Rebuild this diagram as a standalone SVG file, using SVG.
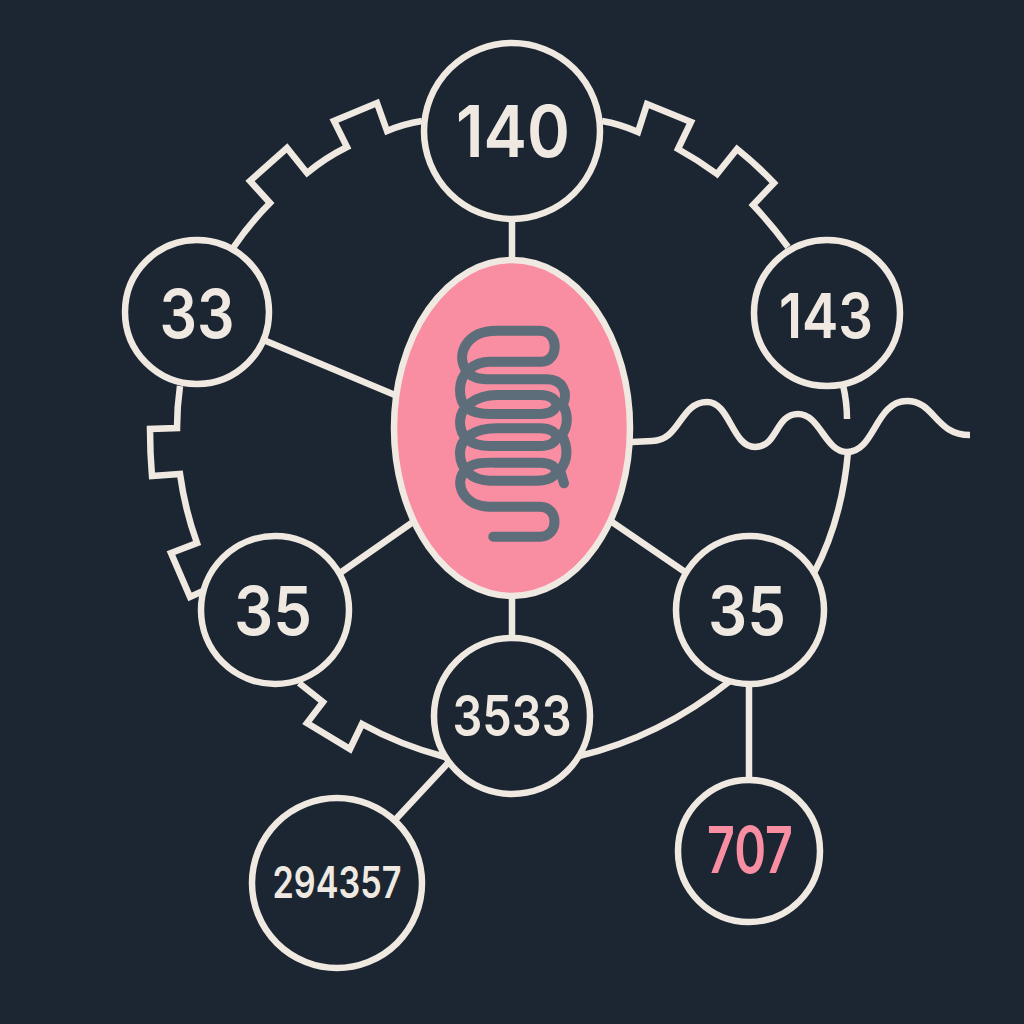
<svg xmlns="http://www.w3.org/2000/svg" width="1024" height="1024" viewBox="0 0 1024 1024">
<style>
.l{fill:none;stroke:#efe9e1;stroke-width:6.5;stroke-linejoin:miter;stroke-linecap:butt}
.n{fill:#1b2632;stroke:#efe9e1;stroke-width:6.5}
.t{fill:#efe9e1;font-family:Inter,"Noto Sans","Liberation Sans",sans-serif;font-weight:600;text-anchor:middle}
</style>
<rect width="1024" height="1024" fill="#1b2632"/>
<g id="connectors">
<path class="l" d="M233,248 Q250,223 270,203 L250,181 L287,148 L307,173 Q325,158 347,147 L334,121 L377,103 L387,131 Q403,124 422,121"/>
<path class="l" d="M602,121 Q620,124 638,132 L647,104 L691,122 L678,149 Q698,160 717,174 L737,149 Q757,165 774,183 L753,205 Q772,225 788,247"/>
<path class="l" d="M180,386 Q177,407 177,428 L150,429 Q150,453 152,476 L180,474 Q185,510 197,543 L171,553 L190,597 L203,591"/>
<path class="l" d="M299,683 L323,702 L307,723 L350,749 L362,724 Q400,745 445,757"/>
<path class="l" d="M579,756 Q660,737 730,681"/>
<path class="l" d="M814,573 Q842,520 848,452"/>
<path class="l" d="M843,385 Q847,402 847,419"/>
<path class="l" stroke-linecap="round" d="M632,442 L652,441 C680,441 680,402 707,402 C730,402 732,447 755,447 C778,447 775,414 798,414 C820,414 825,452 847,452 C875,452 875,401 907,401 C935,401 935,435 970,435"/>
<path class="l" d="M512,219 V260 M266,341 L395,395 M340,573 L413,522 M612,522 L685,572 M512,595 V638 M448,763 L395,820 M749,685 V778"/>
</g>
<g id="center">
<ellipse cx="512" cy="428" rx="118" ry="168" fill="#f98ea3" stroke="#efe9e1" stroke-width="6.5"/>
<g transform="translate(440 310) scale(.3333)">
<path fill="none" stroke="#5d6d79" stroke-width="30" stroke-linecap="round" d="M160,680 H300 C358,680 358,590 300,590 H150 C70,590 40,520 75,480 C100,455 140,458 170,458 H300 C365,458 365,512 290,512 H150 C100,512 60,480 60,430 C60,380 110,355 170,355 H300 C365,355 365,408 300,408 H150 C90,408 60,380 60,335 C60,290 110,255 170,255 H300 C365,255 365,312 300,312 H150 C90,312 60,290 60,240 C60,190 100,155 150,155 H305 C358,155 358,62 300,62 H170 C80,62 50,130 75,175 C90,205 120,208 150,208 H320 C370,208 385,250 368,285 C385,310 385,350 365,375 C385,410 385,450 360,480 L372,520"/>
</g>
</g>
<g id="n140"><circle class="n" cx="512" cy="131" r="88"/><text class="t" x="513" y="157" font-size="72" textLength="114" lengthAdjust="spacingAndGlyphs">140</text></g>
<g id="n33"><circle class="n" cx="197" cy="312" r="72"/><text class="t" x="197" y="338" font-size="68" textLength="75" lengthAdjust="spacingAndGlyphs">33</text></g>
<g id="n143"><circle class="n" cx="827" cy="313" r="73"/><text class="t" x="826" y="338" font-size="62" textLength="94" lengthAdjust="spacingAndGlyphs">143</text></g>
<g id="n35l"><circle class="n" cx="275" cy="610" r="74"/><text class="t" x="273" y="635" font-size="68" textLength="78" lengthAdjust="spacingAndGlyphs">35</text></g>
<g id="n35r"><circle class="n" cx="750" cy="610" r="74"/><text class="t" x="747" y="635" font-size="68" textLength="78" lengthAdjust="spacingAndGlyphs">35</text></g>
<g id="n3533"><circle class="n" cx="512" cy="716" r="78"/><text class="t" x="512" y="736" font-size="56" textLength="119" lengthAdjust="spacingAndGlyphs">3533</text></g>
<g id="n294357"><circle class="n" cx="337" cy="883" r="85"/><text class="t" x="337" y="898" font-size="44" textLength="129" lengthAdjust="spacingAndGlyphs">294357</text></g>
<g id="n707"><circle class="n" cx="749" cy="851" r="71"/><text class="t" x="750" y="873" font-size="65" textLength="86" lengthAdjust="spacingAndGlyphs" style="fill:#f98ea3">707</text></g>
</svg>
